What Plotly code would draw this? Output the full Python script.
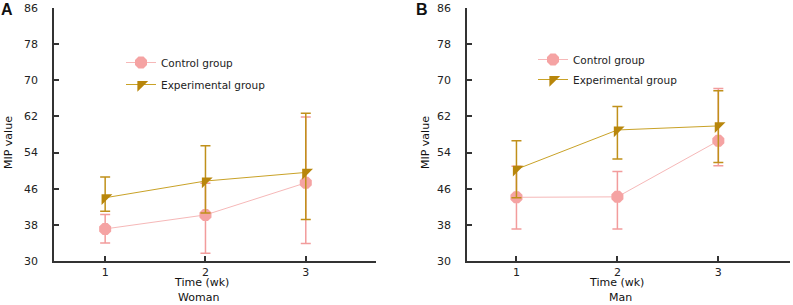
import plotly.graph_objects as go

weeks = [1, 2, 3]

# Panel A (Woman)
a_ctrl = [37.1, 40.2, 47.3]
a_ctrl_up = [40.3, 47.2, 61.9]
a_ctrl_lo = [34.0, 31.7, 33.9]
a_exp = [44.0, 47.7, 49.6]
a_exp_up = [48.6, 55.5, 62.7]
a_exp_lo = [41.0, 40.6, 39.2]

# Panel B (Man)
b_ctrl = [44.1, 44.2, 56.6]
b_ctrl_up = [51.0, 49.8, 68.2]
b_ctrl_lo = [37.1, 37.1, 51.1]
b_exp = [50.3, 59.0, 59.9]
b_exp_up = [56.6, 64.2, 67.7]
b_exp_lo = [44.0, 52.6, 51.8]

y_ticks = [30, 38, 46, 54, 62, 70, 78, 86]

PINK = "#F5A3A3"
PINK_LINE = "#F6B8B8"
PINK_ERR = "#F29C9C"
GOLD = "#B8860B"
GOLD_LINE = "#C9A227"
GOLD_ERR = "#C0901A"
FONT = "DejaVu Sans"

W, H = 793, 305
L, R, T, B = 54, 3, 8, 44
PW, PH = W - L - R, H - T - B


def px(x, y):
    return (x - L) / PW, (H - B - y) / PH


def err(mean, up, lo):
    return dict(type="data", symmetric=False,
                array=[u - m for u, m in zip(up, mean)],
                arrayminus=[m - l for l, m in zip(lo, mean)])


fig = go.Figure()

for (ctrl, cu, cl, exp, eu, el, xa, ya, leg) in [
    (a_ctrl, a_ctrl_up, a_ctrl_lo, a_exp, a_exp_up, a_exp_lo, "x", "y", "legend"),
    (b_ctrl, b_ctrl_up, b_ctrl_lo, b_exp, b_exp_up, b_exp_lo, "x2", "y2", "legend2"),
]:
    fig.add_trace(go.Scatter(
        x=weeks, y=ctrl, name="Control group", mode="lines+markers",
        xaxis=xa, yaxis=ya, legend=leg, legendgroup=leg + "c",
        line=dict(color=PINK_LINE, width=1),
        marker=dict(symbol="octagon", size=13, color=PINK, line=dict(width=0)),
        error_y=dict(**err(ctrl, cu, cl), color=PINK_ERR, thickness=1.5, width=5),
    ))
    fig.add_trace(go.Scatter(
        x=weeks, y=exp, name="Experimental group", mode="lines+markers",
        xaxis=xa, yaxis=ya, legend=leg, legendgroup=leg + "e",
        line=dict(color=GOLD_LINE, width=1),
        marker=dict(symbol="triangle-nw", size=12, color=GOLD, line=dict(width=0)),
        error_y=dict(**err(exp, eu, el), color=GOLD_ERR, thickness=1.5, width=5),
    ))

dA = (0, (376 - L) / PW)
dB = ((467 - L) / PW, 1)

axis_common = dict(showline=True, linecolor="#333333", linewidth=1.5,
                   showgrid=False, zeroline=False, ticks="inside", ticklen=5,
                   tickcolor="#333333", tickwidth=1.5,
                   tickfont=dict(family=FONT, size=11, color="#222222"))

fig.update_layout(
    width=W, height=H, margin=dict(l=L, r=R, t=T, b=B),
    paper_bgcolor="white", plot_bgcolor="white",
    font=dict(family=FONT, size=11, color="#222222"),
    xaxis=dict(domain=dA, range=[0.49, 3.7], tickvals=weeks, anchor="y", **axis_common),
    yaxis=dict(domain=[0, 1], range=[30, 86], tickvals=y_ticks, anchor="x",
               ticklabelstandoff=12, **axis_common),
    xaxis2=dict(domain=dB, range=[0.51, 3.71], tickvals=weeks, anchor="y2", **axis_common),
    yaxis2=dict(domain=[0, 1], range=[30, 86], tickvals=y_ticks, anchor="x2",
                ticklabelstandoff=12, **axis_common),
    legend=dict(x=px(121, 0)[0], y=px(0, 48)[1], xanchor="left", yanchor="top",
                traceorder="grouped", tracegroupgap=3,
                bgcolor="rgba(0,0,0,0)", font=dict(family=FONT, size=10.5)),
    legend2=dict(x=px(533, 0)[0], y=px(0, 45)[1], xanchor="left", yanchor="top",
                 traceorder="grouped", tracegroupgap=1,
                 bgcolor="rgba(0,0,0,0)", font=dict(family=FONT, size=10.5)),
    showlegend=True,
)

ann = []


def add_text(text, x, y, size=11, bold=False, angle=0):
    xp, yp = px(x, y)
    ann.append(dict(text=f"<b>{text}</b>" if bold else text, x=xp, y=yp,
                    xref="paper", yref="paper", showarrow=False,
                    xanchor="center", yanchor="middle", textangle=angle,
                    font=dict(family=FONT if not bold else "Liberation Sans",
                              size=size, color="#111111")))


add_text("A", 7, 10, size=16, bold=True)
add_text("B", 422, 10, size=16, bold=True)
add_text("MIP value", 8, 143, angle=-90)
add_text("MIP value", 425, 143, angle=-90)
add_text("Time (wk)", 201, 282)
add_text("Woman", 198, 297)
add_text("Time (wk)", 616, 282)
add_text("Man", 620, 297)

fig.update_layout(annotations=ann)
fig.write_html("out.html", config={"displayModeBar": False},
               post_script="document.body.style.margin='0';document.body.style.overflow='hidden';")
